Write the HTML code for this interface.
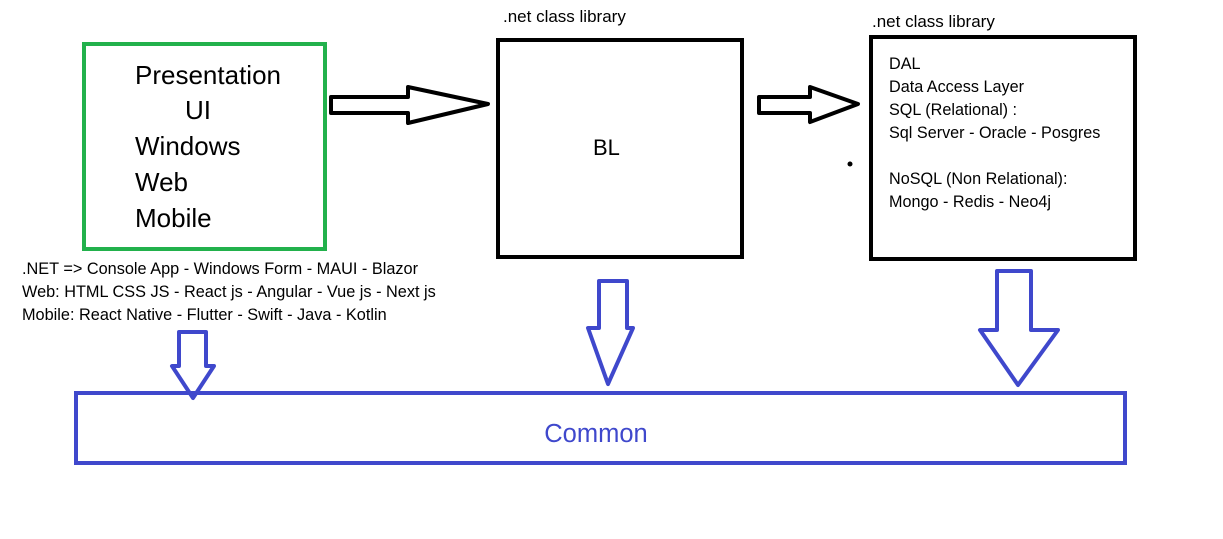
<!DOCTYPE html>
<html><head><meta charset="utf-8"><style>
html,body{margin:0;padding:0;background:#fff;width:1223px;height:539px;overflow:hidden}
svg{display:block;font-family:"Liberation Sans",sans-serif}
</style></head><body>
<svg width="1223" height="539" viewBox="0 0 1223 539">
<rect x="0" y="0" width="1223" height="539" fill="#fff"/>
<g>
<rect x="84" y="44" width="241" height="205" fill="none" stroke="#22b14c" stroke-width="4"/>
<g font-size="26" fill="#000">
<text x="135" y="84">Presentation</text>
<text x="185" y="119">UI</text>
<text x="135" y="155">Windows</text>
<text x="135" y="191">Web</text>
<text x="135" y="227">Mobile</text>
</g></g>
<g font-size="16.3" fill="#000">
<text x="22" y="274">.NET =&gt; Console App - Windows Form - MAUI - Blazor</text>
<text x="22" y="297">Web: HTML CSS JS - React js - Angular - Vue js - Next js</text>
<text x="22" y="320">Mobile: React Native - Flutter - Swift - Java  - Kotlin</text>
</g>
<polygon points="331,97 408,97 408,87 488,104 408,123 408,113 331,113" fill="#fff" stroke="#000" stroke-width="4" stroke-linejoin="round"/>
<text x="503" y="22" font-size="17">.net class library</text>
<rect x="498" y="40" width="244" height="217" fill="none" stroke="#000" stroke-width="4"/>
<text x="593" y="155" font-size="22">BL</text>
<polygon points="759,97 810,97 810,87 858,104 810,122 810,113 759,113" fill="#fff" stroke="#000" stroke-width="4" stroke-linejoin="round"/>
<text x="872" y="27" font-size="17">.net class library</text>
<rect x="871" y="37" width="264" height="222" fill="none" stroke="#000" stroke-width="4"/>
<g font-size="16.2" fill="#000">
<text x="889" y="69">DAL</text>
<text x="889" y="92">Data Access Layer</text>
<text x="889" y="115">SQL (Relational) :</text>
<text x="889" y="138">Sql Server - Oracle - Posgres</text>
<text x="889" y="184">NoSQL (Non Relational):</text>
<text x="889" y="207">Mongo - Redis - Neo4j</text>
</g>
<circle cx="850" cy="164" r="2.5" fill="#000"/>
<g fill="#fff" stroke="#3f48cc" stroke-width="4" stroke-linejoin="round">
<polygon points="179,332 206,332 206,366 214,366 193,398 172,366 179,366"/>
<polygon points="599,281 627,281 627,328 633,328 608,384 588,328 599,328"/>
<polygon points="997,271 1031,271 1031,330 1058,330 1018,385 980,330 997,330"/>
</g>
<rect x="76" y="393" width="1049" height="70" fill="none" stroke="#3f48cc" stroke-width="4"/>
<text x="596" y="442" font-size="25.5" fill="#3f48cc" text-anchor="middle">Common</text>
</svg>
</body></html>
